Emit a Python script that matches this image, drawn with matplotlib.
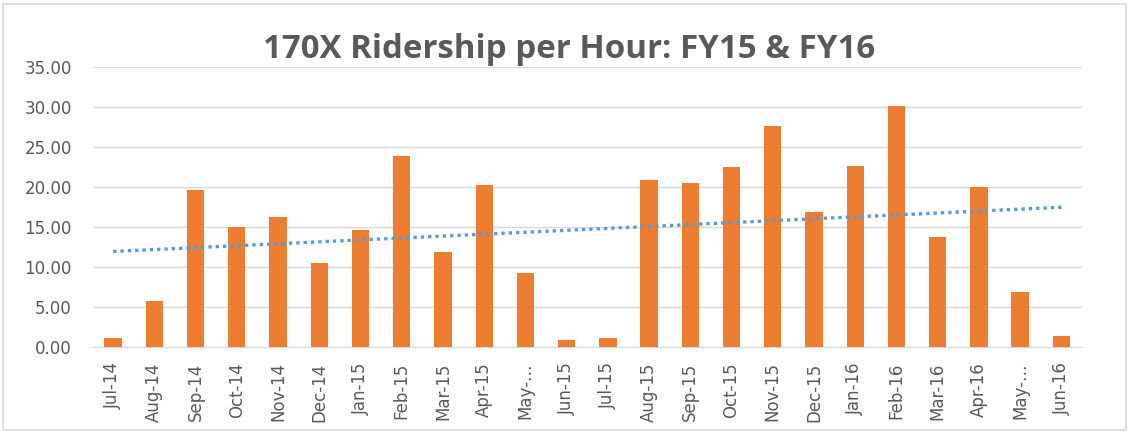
import numpy as np
import matplotlib
matplotlib.use("Agg")
import matplotlib.pyplot as plt
from matplotlib.patches import Rectangle

months = ["Jul-14", "Aug-14", "Sep-14", "Oct-14", "Nov-14", "Dec-14", "Jan-15", "Feb-15",
          "Mar-15", "Apr-15", "May-…", "Jun-15", "Jul-15", "Aug-15", "Sep-15", "Oct-15",
          "Nov-15", "Dec-15", "Jan-16", "Feb-16", "Mar-16", "Apr-16", "May-…", "Jun-16"]
ridership = [1.08, 5.76, 19.60, 14.94, 16.23, 10.51, 14.64, 23.82,
             11.85, 20.19, 9.26, 0.92, 1.08, 20.90, 20.48, 22.49,
             27.62, 16.85, 22.65, 30.08, 13.77, 19.98, 6.88, 1.38]
yticks = [0, 5, 10, 15, 20, 25, 30, 35]
title = "170X Ridership per Hour: FY15 & FY16"

W, H = 1130, 432
fig = plt.figure(figsize=(W / 100, H / 100), dpi=100)
ax = fig.add_axes([92.5 / W, 1 - 347 / H, (1082 - 92.5) / W, (347 - 67) / H])

x = np.arange(len(months))
ax.bar(x, ridership, width=0.42, color="#ED7D31", zorder=3)

# linear trendline
coef = np.polyfit(x, ridership, 1)
ax.plot(x, np.polyval(coef, x), linestyle=(0, (1, 1.2)), color="#5B9BD5",
        linewidth=2.4, zorder=4)

ax.set_xlim(-0.5, len(months) - 0.5)
ax.set_ylim(0, 35)
ax.set_yticks(yticks)
ax.set_yticklabels([f"{v:.2f}" for v in yticks], fontsize=12, color="#595959",
                   family="DejaVu Sans")
ax.set_xticks(x)
ax.set_xticklabels(months, rotation=90, fontsize=12, color="#595959",
                   family="DejaVu Sans")
ax.tick_params(axis="both", length=0)
ax.tick_params(axis="y", pad=15)
ax.tick_params(axis="x", pad=11)
ax.grid(axis="y", color="#D9D9D9", linewidth=1, zorder=0)
for s in ["top", "right", "left"]:
    ax.spines[s].set_visible(False)
ax.spines["bottom"].set_color("#D9D9D9")

fig.text(569 / W, 1 - 49 / H, title, ha="center", va="center", fontsize=23.8,
         fontweight="bold", color="#595959", family=["Open Sans", "DejaVu Sans"])

fig.patches.append(Rectangle((3 / W, 2 / H), (W - 7) / W, (H - 6) / H,
                             transform=fig.transFigure, fill=False,
                             edgecolor="#D9D9D9", linewidth=1.2))

fig.savefig("out.png", dpi=100)
